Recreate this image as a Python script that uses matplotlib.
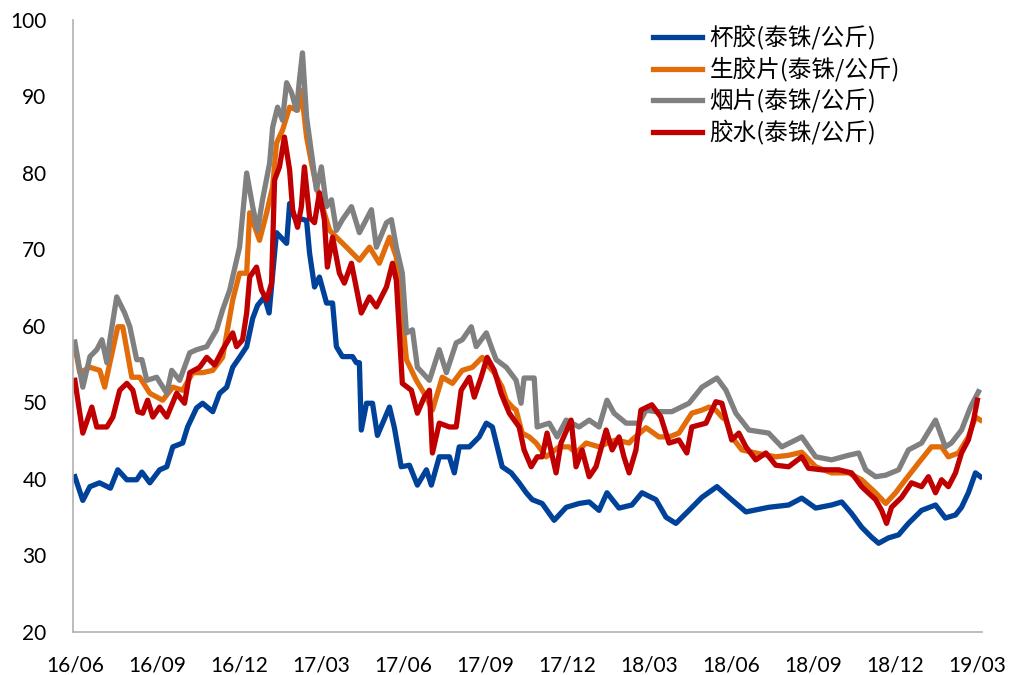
import numpy as np
import matplotlib
matplotlib.use("Agg")
import matplotlib.pyplot as plt

# x = months since 2016-06
cup_m = [0, 0.29, 0.55, 0.9, 1.3, 1.57, 1.9, 2.26, 2.45, 2.74, 3.1, 3.36, 3.58, 3.94, 4.12, 4.45, 4.67,
         5.04, 5.29, 5.55, 5.77, 6.02, 6.28, 6.5, 6.68, 6.93, 7.1, 7.37, 7.74, 7.85, 8.03, 8.47, 8.58,
         8.76, 8.94, 9.2, 9.42, 9.56, 9.78, 10.15, 10.29, 10.4, 10.47, 10.66, 10.88, 11.06, 11.5, 11.68,
         11.93, 12.23, 12.52, 12.85, 13.03, 13.32, 13.69, 13.87, 14.05, 14.42, 14.78, 15.04, 15.26, 15.44,
         15.62, 15.95, 16.24, 16.5, 16.72, 17.08, 17.52, 17.96, 18.43, 18.8, 19.16, 19.45, 19.89, 20.36,
         20.73, 21.24, 21.61, 21.97, 22.45, 22.92, 23.47, 23.91, 24.53, 25.36, 26.09, 26.57, 27.08, 27.66,
         28.03, 28.39, 28.76, 29.12, 29.38, 29.74, 30.11, 30.47, 30.95, 31.46, 31.82, 32.19, 32.41, 32.66,
         32.92, 33.1]
cup_v = [40.3, 37.2, 39, 39.5, 38.8, 41.2, 39.9, 39.9, 40.9, 39.5, 41.2, 41.6, 44.2, 44.7, 46.8, 49.3, 49.9,
         48.8, 51.2, 52, 54.6, 55.9, 57.3, 61, 62.7, 63.8, 61.7, 72.2, 70.8, 76, 74.2, 73.8, 69.5,
         65.1, 66.4, 63, 63, 57.3, 56, 56, 55.2, 55.2, 46.4, 49.9, 49.9, 45.7, 49.4, 46.7,
         41.6, 41.8, 39.2, 41.2, 39.2, 42.9, 42.9, 40.8, 44.2, 44.2, 45.5, 47.3, 46.8, 44.2,
         41.6, 40.8, 39.5, 38.2, 37.3, 36.8, 34.6, 36.3, 36.8, 37, 35.9, 38.2, 36.2, 36.6,
         38.2, 37.3, 35, 34.2, 35.9, 37.6, 39, 37.6, 35.7, 36.3, 36.6, 37.5, 36.2, 36.6,
         37, 35.5, 33.7, 32.4, 31.6, 32.3, 32.7, 34.2, 35.9, 36.6, 34.9, 35.3, 36.3, 38.2,
         40.8, 40.3]

sheet_m = [0, 0.18, 0.55, 0.91, 1.09, 1.28, 1.57, 1.75, 2.08, 2.37, 2.74, 3.21, 3.58, 3.94, 4.31, 4.67,
           5.04, 5.4, 5.77, 6.02, 6.28, 6.39, 6.75, 7.01, 7.23, 7.37, 7.59, 7.85, 8.14, 8.28, 8.47, 8.65,
           8.83, 9.05, 9.31, 9.56, 9.93, 10.15, 10.4, 10.77, 11.13, 11.5, 11.75, 12.12, 12.48, 12.85,
           13.07, 13.43, 13.8, 14.16, 14.53, 14.89, 15.15, 15.33, 15.62, 15.77, 15.99, 16.13, 16.35,
           16.61, 16.86, 17.23, 17.7, 18.07, 18.32, 18.69, 19.16, 19.53, 19.78, 20.26, 20.36, 20.88,
           21.35, 21.72, 22.08, 22.55, 22.92, 23.18, 23.43, 23.65, 23.8, 24.01, 24.38, 24.89, 25.62,
           26.09, 26.57, 27.08, 27.66, 28.28, 28.76, 29.27, 29.64, 30, 30.36, 30.84, 31.31, 31.68,
           31.93, 32.3, 32.66, 32.92, 33.1]
sheet_v = [57.3, 53.9, 54.6, 54.2, 52, 55.2, 59.9, 59.9, 53.3, 53.3, 51.2, 50.3, 52, 51.6, 53.9, 53.9,
           54.2, 55.9, 63.4, 66.9, 66.9, 74.8, 71.2, 74.8, 78.2, 83.9, 85.6, 88.6, 88.2, 90.8, 84.7, 81.3,
           78.2, 75.6, 72.5, 71.6, 70.3, 69.5, 68.6, 70.3, 68.2, 71.6, 69, 55.6, 52.9, 50.7,
           49, 53.3, 52.5, 54.2, 54.6, 55.9, 54.6, 53.9, 52, 50.3, 49.4, 49, 46,
           45.5, 44.7, 42.9, 44.2, 44.2, 43.4, 44.7, 44.2, 44.8, 45.1, 44.7, 45.1, 46.7,
           45.5, 45.5, 46, 48.6, 49, 49.4, 49, 48.1, 47.7, 45.5, 43.8, 43.4, 42.9,
           43.1, 43.5, 41.6, 40.8, 40.8, 39.9, 38.2, 36.8, 38.2, 39.9, 42.1, 44.2, 44.2,
           42.9, 43.4, 45.5, 48.1, 47.7]

smoked_m = [0, 0.29, 0.55, 0.8, 0.99, 1.17, 1.28, 1.53, 1.82, 2.01, 2.26, 2.45, 2.63, 2.99, 3.36, 3.54,
            3.83, 4.2, 4.45, 4.82, 5.18, 5.4, 5.66, 6.02, 6.28, 6.5, 6.68, 6.86, 7.12, 7.23, 7.41, 7.59,
            7.74, 7.92, 8.1, 8.21, 8.32, 8.47, 8.65, 8.83, 9.01, 9.2, 9.38, 9.56, 9.78, 10.11, 10.4,
            10.84, 11.02, 11.39, 11.57, 11.75, 11.97, 12.12, 12.34, 12.52, 12.96, 13.32, 13.58, 13.94,
            14.16, 14.49, 14.67, 15.04, 15.26, 15.4, 15.77, 16.13, 16.31, 16.42, 16.79, 16.9, 17.34,
            17.63, 17.96, 18.43, 18.8, 19.16, 19.45, 19.71, 20.15, 20.62, 20.88, 21.24, 21.82, 22.45,
            22.92, 23.47, 23.8, 24.16, 24.64, 25.36, 25.84, 26.35, 26.57, 27.08, 27.66, 28.28, 28.65,
            28.91, 29.27, 29.64, 30.11, 30.47, 30.95, 31.46, 31.82, 32.04, 32.41, 32.74, 33.03]
smoked_v = [57.9, 52, 56, 56.9, 58.2, 55.2, 58.2, 63.8, 61.7, 59.9, 55.6, 55.6, 52.9, 53.3, 51.2, 54.2,
            52.9, 56.5, 56.9, 57.3, 59.5, 62.1, 64.7, 70.3, 80, 75.6, 72.5, 76.5, 81.3, 86, 88.6, 86.9,
            91.8, 90.5, 88.2, 92.2, 95.7, 87.3, 82.6, 77.8, 80.8, 75.6, 76.5, 72.5, 73.9, 75.6, 72.2,
            75.2, 70.3, 73.5, 73.9, 70.3, 66.9, 59.1, 59.5, 54.6, 52.9, 56.9, 53.9, 57.8,
            58.2, 59.9, 57.3, 59.1, 56.9, 55.6, 54.6, 52.9, 49.9, 53.2, 53.2, 46.8, 47.3,
            45.5, 47.7, 46.8, 47.7, 46.8, 50.3, 48.6, 47.3, 47.3, 49, 48.8, 48.8, 49.9,
            52, 53.2, 51.6, 48.6, 46.4, 46, 44.2, 45.1, 45.5, 42.9, 42.5, 43.1, 43.4,
            41.2, 40.3, 40.5, 41.2, 43.8, 44.7, 47.7, 44.2, 44.7, 46.4, 49.4, 51.4]

latex_m = [0, 0.29, 0.62, 0.8, 1.17, 1.39, 1.64, 1.9, 2.12, 2.3, 2.48, 2.66, 2.85, 3.1, 3.36, 3.72, 4.01,
           4.2, 4.56, 4.82, 5.11, 5.4, 5.77, 5.91, 6.13, 6.28, 6.39, 6.64, 6.82, 7.01, 7.19, 7.3, 7.48,
           7.66, 7.85, 7.96, 8.14, 8.28, 8.39, 8.58, 8.76, 8.94, 9.12, 9.23, 9.42, 9.67, 9.85, 10.11,
           10.47, 10.77, 11.02, 11.39, 11.61, 11.75, 11.97, 12.3, 12.52, 12.77, 12.96, 13.07, 13.32,
           13.69, 13.94, 14.12, 14.42, 14.6, 14.85, 15.07, 15.33, 15.58, 15.88, 16.24, 16.42, 16.68,
           16.9, 17.08, 17.26, 17.59, 17.77, 18.14, 18.32, 18.54, 18.8, 19.05, 19.42, 19.64, 19.89,
           20.07, 20.26, 20.51, 20.69, 21.09, 21.42, 21.72, 22.08, 22.37, 22.55, 23.07, 23.43, 23.65,
           24.01, 24.27, 24.53, 24.89, 25.26, 25.62, 26.09, 26.57, 26.82, 27.3, 27.92, 28.39, 28.76,
           29.27, 29.49, 29.67, 29.85, 30.22, 30.58, 30.95, 31.2, 31.46, 31.68, 31.93, 32.19, 32.41,
           32.66, 32.85, 32.99]
latex_v = [52.9, 46, 49.4, 46.8, 46.8, 48.1, 51.6, 52.5, 51.6, 48.8, 48.6, 50.3, 48.1, 49.4, 48.1, 51.2, 49.9,
           53.9, 54.6, 55.9, 54.9, 56.9, 59.1, 57.3, 58.2, 61.7, 66.4, 67.7, 64.7, 63.4, 65.6, 79.1, 80.8,
           84.7, 80.4, 75.2, 72.9, 75.6, 80.8, 74.2, 73.5, 77.4, 73.9, 67.7, 71.6, 66.9, 65.6, 68.2,
           61.7, 63.8, 62.5, 65.1, 68.2, 66, 52.5, 51.6, 48.6, 50.7, 51.6, 43.4, 47.3,
           46.8, 46.8, 51.6, 53.3, 50.7, 53.3, 55.9, 54.2, 51.2, 48.6, 46.8, 43.8, 41.6,
           42.9, 42.9, 46, 40.8, 44.7, 47.7, 41.6, 43.8, 40.3, 41.6, 46.4, 43.8, 45.5,
           42.9, 40.8, 43.8, 49, 49.7, 48.1, 44.7, 45.1, 43.4, 46.8, 47.3, 50.1, 49.9,
           45.1, 46, 44.2, 42.5, 43.4, 41.8, 41.6, 42.9, 41.4, 41.2, 41.2, 40.8, 39,
           37.3, 35.9, 34.2, 36.3, 37.6, 39.5, 39, 40.3, 38.2, 39.9, 39, 40.8, 43.4,
           45.1, 47.7, 50.3]

tick_pos = [0, 3, 6, 9, 12, 15, 18, 21, 24, 27, 30, 33]
tick_labels = ["16/06", "16/09", "16/12", "17/03", "17/06", "17/09",
               "17/12", "18/03", "18/06", "18/09", "18/12", "19/03"]
names = ["杯胶(泰铢/公斤)", "生胶片(泰铢/公斤)", "烟片(泰铢/公斤)", "胶水(泰铢/公斤)"]
colors = ["#00429A", "#E36C0A", "#808080", "#C00000"]

plt.rcParams['font.family'] = ['Noto Sans CJK SC', 'DejaVu Sans']

fig = plt.figure(figsize=(10.09, 6.75), dpi=100)
ax = fig.add_axes([0.0723, 0.0637, 0.9007, 0.9067])

series = [(cup_m, cup_v), (sheet_m, sheet_v), (smoked_m, smoked_v), (latex_m, latex_v)]
for (m, v), name, c in zip(series, names, colors):
    ax.plot(m, v, color=c, lw=3.8, label=name, solid_joinstyle='round')

ax.set_xlim(-0.07, 33.15)
ax.set_ylim(20, 100)
ax.set_yticks(np.arange(20, 101, 10))
ax.set_xticks(tick_pos)
ax.set_xticklabels(tick_labels)
ax.tick_params(axis='both', length=0, labelsize=15, colors='black')
ax.tick_params(axis='y', pad=19)
ax.tick_params(axis='x', pad=17)
for lab in ax.get_xticklabels() + ax.get_yticklabels():
    lab.set_family(['Lato', 'DejaVu Sans'])

for s in ['top', 'right']:
    ax.spines[s].set_visible(False)
for s in ['left', 'bottom']:
    ax.spines[s].set_color('#B0B0B0')
    ax.spines[s].set_linewidth(1.2)

ax.legend(loc='upper left', bbox_to_anchor=(0.625, 1.01), frameon=False,
          fontsize=17, handlelength=2.1, handletextpad=0.3, labelspacing=0.28,
          borderaxespad=0.1)

fig.savefig("out.png", dpi=100)
